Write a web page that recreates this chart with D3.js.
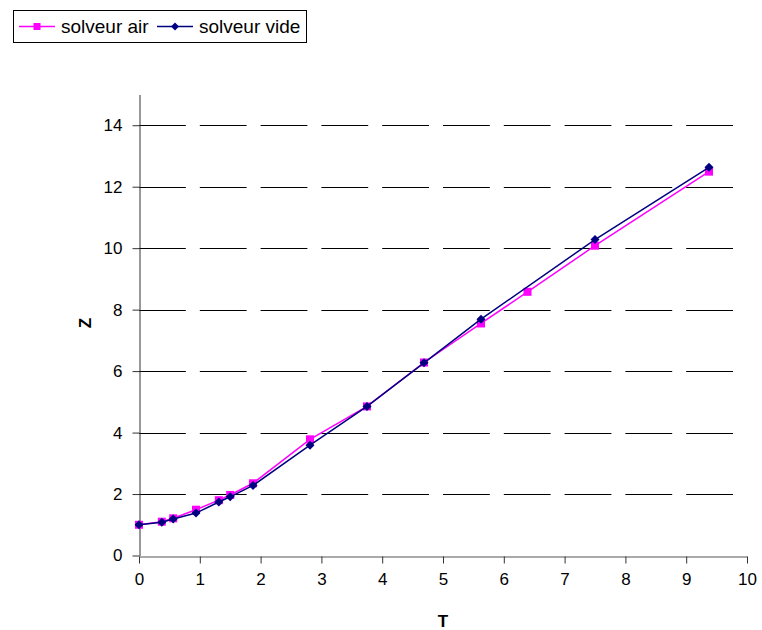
<!DOCTYPE html>
<html><head><meta charset="utf-8">
<script src="https://cdn.jsdelivr.net/npm/d3@7"></script>
<style>body{margin:0;background:#fff}svg{display:block}</style>
</head><body>
<script>
// Data
const airT  = [0, 0.375, 0.5625, 0.9375, 1.3125, 1.5, 1.875, 2.8125, 3.75, 4.6875, 5.625, 6.39, 7.5, 9.375];
const airZ  = [1.0, 1.1, 1.21, 1.49, 1.80, 1.97, 2.35, 3.78, 4.85, 6.28, 7.55, 8.58, 10.08, 12.49];
const videT = [0, 0.375, 0.5625, 0.9375, 1.3125, 1.5, 1.875, 2.8125, 3.75, 4.6875, 5.625, 7.5, 9.375];
const videZ = [1.0, 1.08, 1.19, 1.38, 1.74, 1.91, 2.28, 3.59, 4.85, 6.27, 7.69, 10.28, 12.63];
const xTicks = [0,1,2,3,4,5,6,7,8,9,10];
const yTicks = [0,2,4,6,8,10,12,14];
const gridY = [2,4,6,8,10,12,14];
const seriesNames = ["solveur air", "solveur vide"];

const W = 762, H = 630;
const svg = d3.select("body").append("svg").attr("width", W).attr("height", H);
const font = "'Liberation Sans', Arial, sans-serif";

const x = d3.scaleLinear().domain([0, 10]).range([139, 747]);
const y = d3.scaleLinear().domain([0, 15]).range([555.5, 94.5]);

// gridlines
const unit = x(1) - x(0);
svg.append("g").selectAll("line").data(gridY).join("line")
  .attr("x1", x(0)).attr("x2", x(10))
  .attr("y1", d => Math.round(y(d)) + 0.5).attr("y2", d => Math.round(y(d)) + 0.5)
  .attr("stroke", "#000").attr("stroke-width", 1)
  .attr("stroke-dasharray", `${unit * 0.77},${unit * 0.23}`);

// axes
const xAxis = d3.axisBottom(x).tickValues(xTicks).tickSize(7).tickSizeOuter(0).tickPadding(9);
const gx = svg.append("g").attr("transform", `translate(0,${Math.round(y(0)) + 0.5})`).call(xAxis);
gx.select(".domain").attr("stroke", "#555");
gx.selectAll(".tick line").attr("stroke", "#333");
gx.selectAll("text").attr("font-family", font).attr("font-size", 17).attr("fill", "#000");

const yAxis = d3.axisLeft(y).tickValues(yTicks).tickSize(7).tickSizeOuter(0).tickPadding(10);
const gy = svg.append("g").attr("transform", `translate(${x(0) + 0.5},0)`).call(yAxis);
gy.select(".domain").attr("stroke", "#333");
gy.selectAll(".tick line").attr("stroke", "#333");
gy.selectAll("text").attr("font-family", font).attr("font-size", 17).attr("fill", "#000");

// axis titles
svg.append("text").attr("x", 443).attr("y", 627).attr("text-anchor", "middle")
  .attr("font-family", font).attr("font-weight", "bold").attr("font-size", 17).text("T");
svg.append("text").attr("transform", "translate(91,323) rotate(-90)").attr("text-anchor", "middle")
  .attr("font-family", font).attr("font-weight", "bold").attr("font-size", 17).text("Z");

const line = d3.line().x(d => x(d[0])).y(d => y(d[1]));
const air = airT.map((t, i) => [t, airZ[i]]);
const vide = videT.map((t, i) => [t, videZ[i]]);

const pink = "#FF00FF", navy = "#000080";
const sq = 8;
svg.append("path").datum(air).attr("d", line).attr("fill", "none").attr("stroke", pink).attr("stroke-width", 1.5);
svg.append("g").selectAll("rect").data(air).join("rect")
  .attr("x", d => x(d[0]) - sq / 2).attr("y", d => y(d[1]) - sq / 2).attr("width", sq).attr("height", sq).attr("fill", pink);

svg.append("path").datum(vide).attr("d", line).attr("fill", "none").attr("stroke", navy).attr("stroke-width", 1.5);
const diamond = d3.symbol().type(d3.symbolDiamond2).size(52);
svg.append("g").selectAll("path").data(vide).join("path")
  .attr("transform", d => `translate(${x(d[0])},${y(d[1])})`).attr("d", diamond).attr("fill", navy);

// legend
const lg = svg.append("g");
lg.append("rect").attr("x", 13.5).attr("y", 10.5).attr("width", 293).attr("height", 32)
  .attr("fill", "#fff").attr("stroke", "#000").attr("stroke-width", 1);
const legendItems = [
  {name: seriesNames[0], color: pink, x0: 19, tx: 61, marker: "square"},
  {name: seriesNames[1], color: navy, x0: 157, tx: 199, marker: "diamond"}
];
legendItems.forEach(it => {
  lg.append("line").attr("x1", it.x0).attr("x2", it.x0 + 36).attr("y1", 26.5).attr("y2", 26.5)
    .attr("stroke", it.color).attr("stroke-width", 1.5);
  if (it.marker === "square") {
    lg.append("rect").attr("x", it.x0 + 18 - 3.5).attr("y", 26.5 - 3.5).attr("width", 7).attr("height", 7).attr("fill", it.color);
  } else {
    lg.append("path").attr("transform", `translate(${it.x0 + 18},26.5)`).attr("d", d3.symbol().type(d3.symbolDiamond2).size(40)).attr("fill", it.color);
  }
  lg.append("text").attr("x", it.tx).attr("y", 33).attr("font-family", font).attr("font-size", 19)
    .attr("fill", "#000").text(it.name);
});
</script>
</body></html>
